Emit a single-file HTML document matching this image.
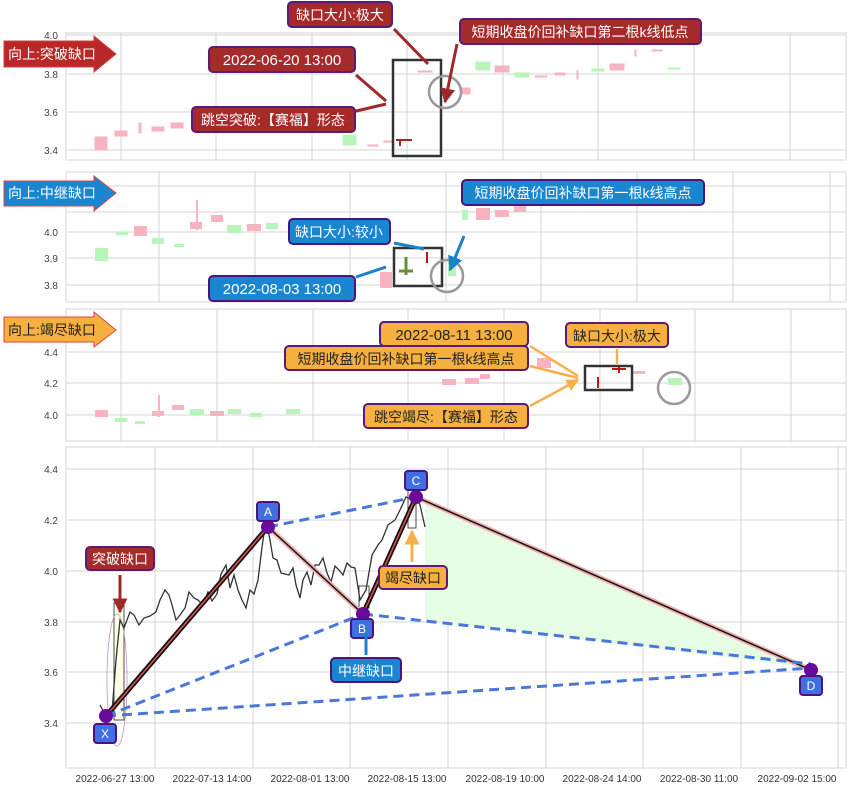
<!DOCTYPE html>
<html><head><meta charset="utf-8"><style>
body{margin:0;background:#fff}
svg{display:block;font-family:"Liberation Sans","Noto Sans CJK SC",sans-serif}
</style></head><body>
<svg width="853" height="791" viewBox="0 0 853 791" xmlns="http://www.w3.org/2000/svg">
<defs>
<marker id="ar" viewBox="0 0 10 10" refX="9" refY="5" markerWidth="5" markerHeight="5" orient="auto"><path d="M0,0L10,5L0,10z" fill="#a02828"/></marker>
<marker id="ab" viewBox="0 0 10 10" refX="9" refY="5" markerWidth="5" markerHeight="5" orient="auto"><path d="M0,0L10,5L0,10z" fill="#1a82c8"/></marker>
<marker id="ao" viewBox="0 0 10 10" refX="9" refY="5" markerWidth="5" markerHeight="5" orient="auto"><path d="M0,0L10,5L0,10z" fill="#f5b04a"/></marker>
</defs>
<g stroke="#d4d4d4" stroke-width="1" fill="none">
<!-- panel 1 -->
<rect x="66" y="33" width="780" height="127"/>
<path d="M66 35H846M66 74H846M66 112H846M66 150H846M121 33V160M216 33V160M312 33V160M407 33V160M503 33V160M598 33V160M694 33V160M790 33V160"/>
<!-- panel 2 -->
<rect x="66" y="172" width="780" height="130"/>
<path d="M66 186H846M66 212H846M66 232H846M66 258H846M66 285H846M159 172V302M255 172V302M350 172V302M446 172V302M541 172V302M637 172V302M733 172V302M830 172V302"/>
<!-- panel 3 -->
<rect x="66" y="309" width="780" height="132"/>
<path d="M66 352H846M66 383H846M66 415H846M121 309V441M217 309V441M313 309V441M408 309V441M504 309V441M600 309V441M695 309V441M791 309V441"/>
<!-- panel 4 -->
<rect x="66" y="447" width="780" height="321"/>
<path d="M66 469H846M66 520H846M66 571H846M66 622H846M66 672H846M66 723H846M155 447V768M253 447V768M350 447V768M448 447V768M546 447V768M643 447V768M741 447V768M838 447V768"/>
</g>
<g font-size="10" fill="#444" text-anchor="end">
<text x="58" y="39">4.0</text><text x="58" y="78">3.8</text><text x="58" y="116">3.6</text><text x="58" y="154">3.4</text>
<text x="58" y="236">4.0</text><text x="58" y="262">3.9</text><text x="58" y="289">3.8</text>
<text x="58" y="356">4.4</text><text x="58" y="387">4.2</text><text x="58" y="419">4.0</text>
<text x="58" y="473">4.4</text><text x="58" y="524">4.2</text><text x="58" y="575">4.0</text><text x="58" y="626">3.8</text><text x="58" y="676">3.6</text><text x="58" y="727">3.4</text>
</g>
<g font-size="10" fill="#333" text-anchor="middle">
<text x="115" y="782">2022-06-27 13:00</text><text x="212" y="782">2022-07-13 14:00</text><text x="310" y="782">2022-08-01 13:00</text><text x="407" y="782">2022-08-15 13:00</text><text x="505" y="782">2022-08-19 10:00</text><text x="602" y="782">2022-08-24 14:00</text><text x="699" y="782">2022-08-30 11:00</text><text x="797" y="782">2022-09-02 15:00</text>
</g>
<!-- panel1 candles -->
<g fill="#f7b3c0" stroke="#f7b3c0">
<rect x="95" y="137" width="12" height="13"/><rect x="115" y="131" width="12" height="5"/><rect x="139" y="123" width="2" height="10"/><rect x="152" y="127" width="12" height="4"/><rect x="171" y="123" width="12" height="5"/>
<rect x="368" y="145" width="10" height="1"/><rect x="384" y="141" width="8" height="1"/><rect x="418" y="71" width="14" height="1"/>
<rect x="462" y="88" width="8" height="6"/><rect x="495" y="66" width="14" height="6"/><rect x="535" y="76" width="12" height="1"/><rect x="555" y="73" width="10" height="2"/><rect x="577" y="71" width="1" height="8"/><rect x="610" y="64" width="14" height="6"/><rect x="635" y="50" width="1" height="6"/><rect x="652" y="50" width="10" height="1"/>
</g>
<g fill="#b8f5b8" stroke="#b8f5b8">
<rect x="343" y="135" width="13" height="10"/><rect x="476" y="62" width="14" height="8"/><rect x="515" y="73" width="14" height="4"/><rect x="592" y="69" width="12" height="2"/><rect x="668" y="68" width="12" height="1"/>
</g>
<path d="M400 140V146M396 140H412" stroke="#a02828" stroke-width="2"/>
<rect x="393" y="60" width="48" height="96" fill="none" stroke="#333" stroke-width="2.5"/>
<circle cx="445" cy="92" r="16" fill="none" stroke="#999" stroke-width="2.5"/>
<!-- panel2 candles -->
<g fill="#f7b3c0"><rect x="134" y="226" width="13" height="10"/><rect x="190" y="222" width="12" height="7"/><rect x="211" y="215" width="12" height="7"/><rect x="247" y="224" width="14" height="7"/><rect x="380" y="272" width="12" height="16"/><rect x="476" y="208" width="14" height="12"/><rect x="495" y="210" width="14" height="7"/><rect x="514" y="204" width="12" height="8"/><rect x="196" y="200" width="2" height="30"/></g>
<g fill="#b8f5b8"><rect x="95" y="248" width="13" height="13"/><rect x="116" y="232" width="12" height="3"/><rect x="152" y="238" width="12" height="6"/><rect x="174" y="244" width="10" height="3"/><rect x="227" y="225" width="14" height="8"/><rect x="266" y="223" width="12" height="6"/><rect x="448" y="262" width="8" height="14"/><rect x="462" y="210" width="6" height="10"/></g>
<path d="M406 257V275M399 271H413" stroke="#6a8f3a" stroke-width="3"/>
<path d="M427 252V263" stroke="#c01818" stroke-width="2"/>
<rect x="394" y="248" width="48" height="38" fill="none" stroke="#333" stroke-width="2.5"/>
<circle cx="447" cy="276" r="16" fill="none" stroke="#999" stroke-width="2.5"/>
<!-- panel3 candles -->
<g fill="#f7b3c0"><rect x="95" y="410" width="13" height="7"/><rect x="152" y="411" width="12" height="5"/><rect x="172" y="405" width="12" height="5"/><rect x="210" y="411" width="14" height="5"/><rect x="442" y="379" width="14" height="6"/><rect x="465" y="378" width="14" height="6"/><rect x="480" y="374" width="10" height="5"/><rect x="537" y="358" width="14" height="10"/><rect x="158" y="395" width="2" height="22"/><rect x="633" y="371" width="12" height="3"/></g>
<g fill="#b8f5b8"><rect x="115" y="418" width="12" height="4"/><rect x="135" y="421" width="10" height="3"/><rect x="190" y="409" width="14" height="6"/><rect x="228" y="409" width="13" height="5"/><rect x="250" y="413" width="12" height="4"/><rect x="286" y="409" width="14" height="5"/><rect x="668" y="378" width="14" height="7"/></g>
<path d="M598 377V388M612 369H626M619 366V373" stroke="#c01818" stroke-width="2"/>
<rect x="585" y="366" width="47" height="24" fill="none" stroke="#333" stroke-width="2.5"/>
<circle cx="674" cy="388" r="16" fill="none" stroke="#999" stroke-width="2.5"/>
<!-- panel4 -->
<polygon points="425,500 811,668 425,620" fill="#e4fde4"/>
<rect x="114" y="603" width="10" height="117" fill="#fdfde8" stroke="#222" stroke-width="0.8"/>
<ellipse cx="117" cy="680" rx="10" ry="66" fill="none" stroke="#c090c0" stroke-width="0.8"/>
<rect x="359" y="586" width="10" height="22" fill="none" stroke="#222" stroke-width="0.8"/>
<rect x="408" y="488" width="8" height="40" fill="none" stroke="#222" stroke-width="0.8"/>
<polyline fill="none" stroke="#333" stroke-width="1.3" points="100,705 106,716 112,712 116,660 120,620 124,628 130,612 134,615 139,625 144,618 150,616 156,612 160,600 165,590 169,595 172,605 176,620 180,615 185,608 189,592 194,598 198,600 203,605 208,592 212,601 217,594 221,574 226,565 230,588 234,575 238,590 242,600 246,608 250,590 254,594 258,580 262,547 266,520 270,540 273,558 277,560 281,573 285,574 289,575 293,568 296,585 300,598 303,580 307,572 311,585 315,565 319,565 323,558 327,573 331,582 335,566 339,570 343,575 347,563 351,567 355,568 360,600 366,590 372,555 378,545 382,540 388,525 395,520 400,510 406,497 412,500 416,497 420,505 425,527"/>
<g fill="none">
<path d="M106 716L268 527M363 614L416 497" stroke="#111" stroke-width="5"/>
<path d="M106 716L268 527M363 614L416 497" stroke="#e05050" stroke-width="1.5"/>
<path d="M268 527L363 614M416 497L811 670" stroke="#f0b0b0" stroke-width="5"/>
<path d="M268 527L363 614M416 497L811 670" stroke="#111" stroke-width="1.5"/>
<path d="M268 527L416 497M106 716L363 614M363 614L811 664M106 716L811 668" stroke="#4a78d8" stroke-width="3" stroke-dasharray="10,6"/>
</g>
<g fill="#6a0a9a"><circle cx="106" cy="716" r="7"/><circle cx="268" cy="527" r="7"/><circle cx="363" cy="614" r="7"/><circle cx="416" cy="497" r="7"/><circle cx="811" cy="670" r="7"/></g>
<g fill="#3f6fe0" stroke="#4a1480" stroke-width="2">
<rect x="94" y="724" width="22" height="19" rx="3"/><rect x="257" y="502" width="22" height="19" rx="3"/><rect x="351" y="619" width="22" height="19" rx="3"/><rect x="405" y="471" width="22" height="19" rx="3"/><rect x="800" y="676" width="22" height="19" rx="3"/>
</g>
<g fill="#fff" font-size="12" text-anchor="middle">
<text x="105" y="738">X</text><text x="268" y="516">A</text><text x="362" y="633">B</text><text x="416" y="485">C</text><text x="811" y="690">D</text>
</g>
<!-- bottom panel annotations -->
<path d="M120 575V612" stroke="#a02828" stroke-width="3" marker-end="url(#ar)"/>
<rect x="86" y="547" width="68" height="23" rx="4" fill="#a52a2a" stroke="#5a1a7a" stroke-width="2"/>
<text x="120" y="564" fill="#fff" font-size="14" text-anchor="middle">突破缺口</text>
<path d="M366 655V634" stroke="#1a82c8" stroke-width="3"/>
<rect x="331" y="658" width="70" height="24" rx="4" fill="#1a86d0" stroke="#4a1480" stroke-width="2"/>
<text x="366" y="676" fill="#fff" font-size="14" text-anchor="middle">中继缺口</text>
<path d="M412 562V531" stroke="#f5b04a" stroke-width="3" marker-end="url(#ao)"/>
<rect x="379" y="566" width="68" height="23" rx="4" fill="#f5b040" stroke="#5a1a7a" stroke-width="2"/>
<text x="413" y="583" fill="#222" font-size="14" text-anchor="middle">竭尽缺口</text>
<!-- panel1 annotations -->
<path d="M4 41H94V36L116 54L94 72V67H4z" fill="#b82828" stroke="#d04040"/>
<text x="8" y="59" fill="#fff" font-size="14">向上:突破缺口</text>
<path d="M394 29L428 64M356 75L386 101M352 112L386 104M457 44L445 102" stroke="#a02828" stroke-width="3" marker-end="url(#ar)"/>
<rect x="288" y="2" width="104" height="25" rx="4" fill="#a52a2a" stroke="#5a1a7a" stroke-width="2"/>
<text x="340" y="20" fill="#fff" font-size="14" text-anchor="middle">缺口大小:极大</text>
<rect x="209" y="47" width="146" height="25" rx="4" fill="#a52a2a" stroke="#5a1a7a" stroke-width="2"/>
<text x="282" y="65" fill="#fff" font-size="15" text-anchor="middle">2022-06-20 13:00</text>
<rect x="192" y="107" width="163" height="25" rx="4" fill="#a52a2a" stroke="#5a1a7a" stroke-width="2"/>
<text x="273" y="125" fill="#fff" font-size="14" text-anchor="middle">跳空突破:【赛福】形态</text>
<rect x="460" y="19" width="241" height="25" rx="4" fill="#a52a2a" stroke="#5a1a7a" stroke-width="2"/>
<text x="580" y="37" fill="#fff" font-size="14" text-anchor="middle">短期收盘价回补缺口第二根k线低点</text>
<!-- panel2 annotations -->
<path d="M4 181H94V176L116 193L94 211V206H4z" fill="#1a86d0" stroke="#e04040"/>
<text x="8" y="198" fill="#fff" font-size="14">向上:中继缺口</text>
<path d="M394 243L424 249M356 277L386 267M464 236L450 270" stroke="#1a82c8" stroke-width="3" marker-end="url(#ab)"/>
<rect x="289" y="219" width="101" height="25" rx="4" fill="#1a86d0" stroke="#4a1480" stroke-width="2"/>
<text x="339" y="237" fill="#fff" font-size="14" text-anchor="middle">缺口大小:较小</text>
<rect x="209" y="276" width="146" height="25" rx="4" fill="#1a86d0" stroke="#4a1480" stroke-width="2"/>
<text x="282" y="294" fill="#fff" font-size="15" text-anchor="middle">2022-08-03 13:00</text>
<rect x="462" y="180" width="242" height="25" rx="4" fill="#1a86d0" stroke="#4a1480" stroke-width="2"/>
<text x="583" y="198" fill="#fff" font-size="14" text-anchor="middle">短期收盘价回补缺口第一根k线高点</text>
<!-- panel3 annotations -->
<path d="M4 317H94V312L116 330L94 347V342H4z" fill="#f5b040" stroke="#e04040"/>
<text x="8" y="335" fill="#222" font-size="14">向上:竭尽缺口</text>
<path d="M617 349V364M530 346L578 376M530 366L578 378M530 406L578 380" stroke="#f5b04a" stroke-width="2.5" marker-end="url(#ao)"/>
<rect x="380" y="322" width="148" height="24" rx="4" fill="#f5b040" stroke="#5a1a7a" stroke-width="2"/>
<text x="454" y="340" fill="#222" font-size="15" text-anchor="middle">2022-08-11 13:00</text>
<rect x="566" y="323" width="102" height="24" rx="4" fill="#f5b040" stroke="#5a1a7a" stroke-width="2"/>
<text x="617" y="341" fill="#222" font-size="14" text-anchor="middle">缺口大小:极大</text>
<rect x="285" y="346" width="243" height="24" rx="4" fill="#f5b040" stroke="#5a1a7a" stroke-width="2"/>
<text x="406" y="364" fill="#222" font-size="14" text-anchor="middle">短期收盘价回补缺口第一根k线高点</text>
<rect x="364" y="404" width="164" height="24" rx="4" fill="#f5b040" stroke="#5a1a7a" stroke-width="2"/>
<text x="446" y="422" fill="#222" font-size="14" text-anchor="middle">跳空竭尽:【赛福】形态</text>
</svg>
</body></html>
